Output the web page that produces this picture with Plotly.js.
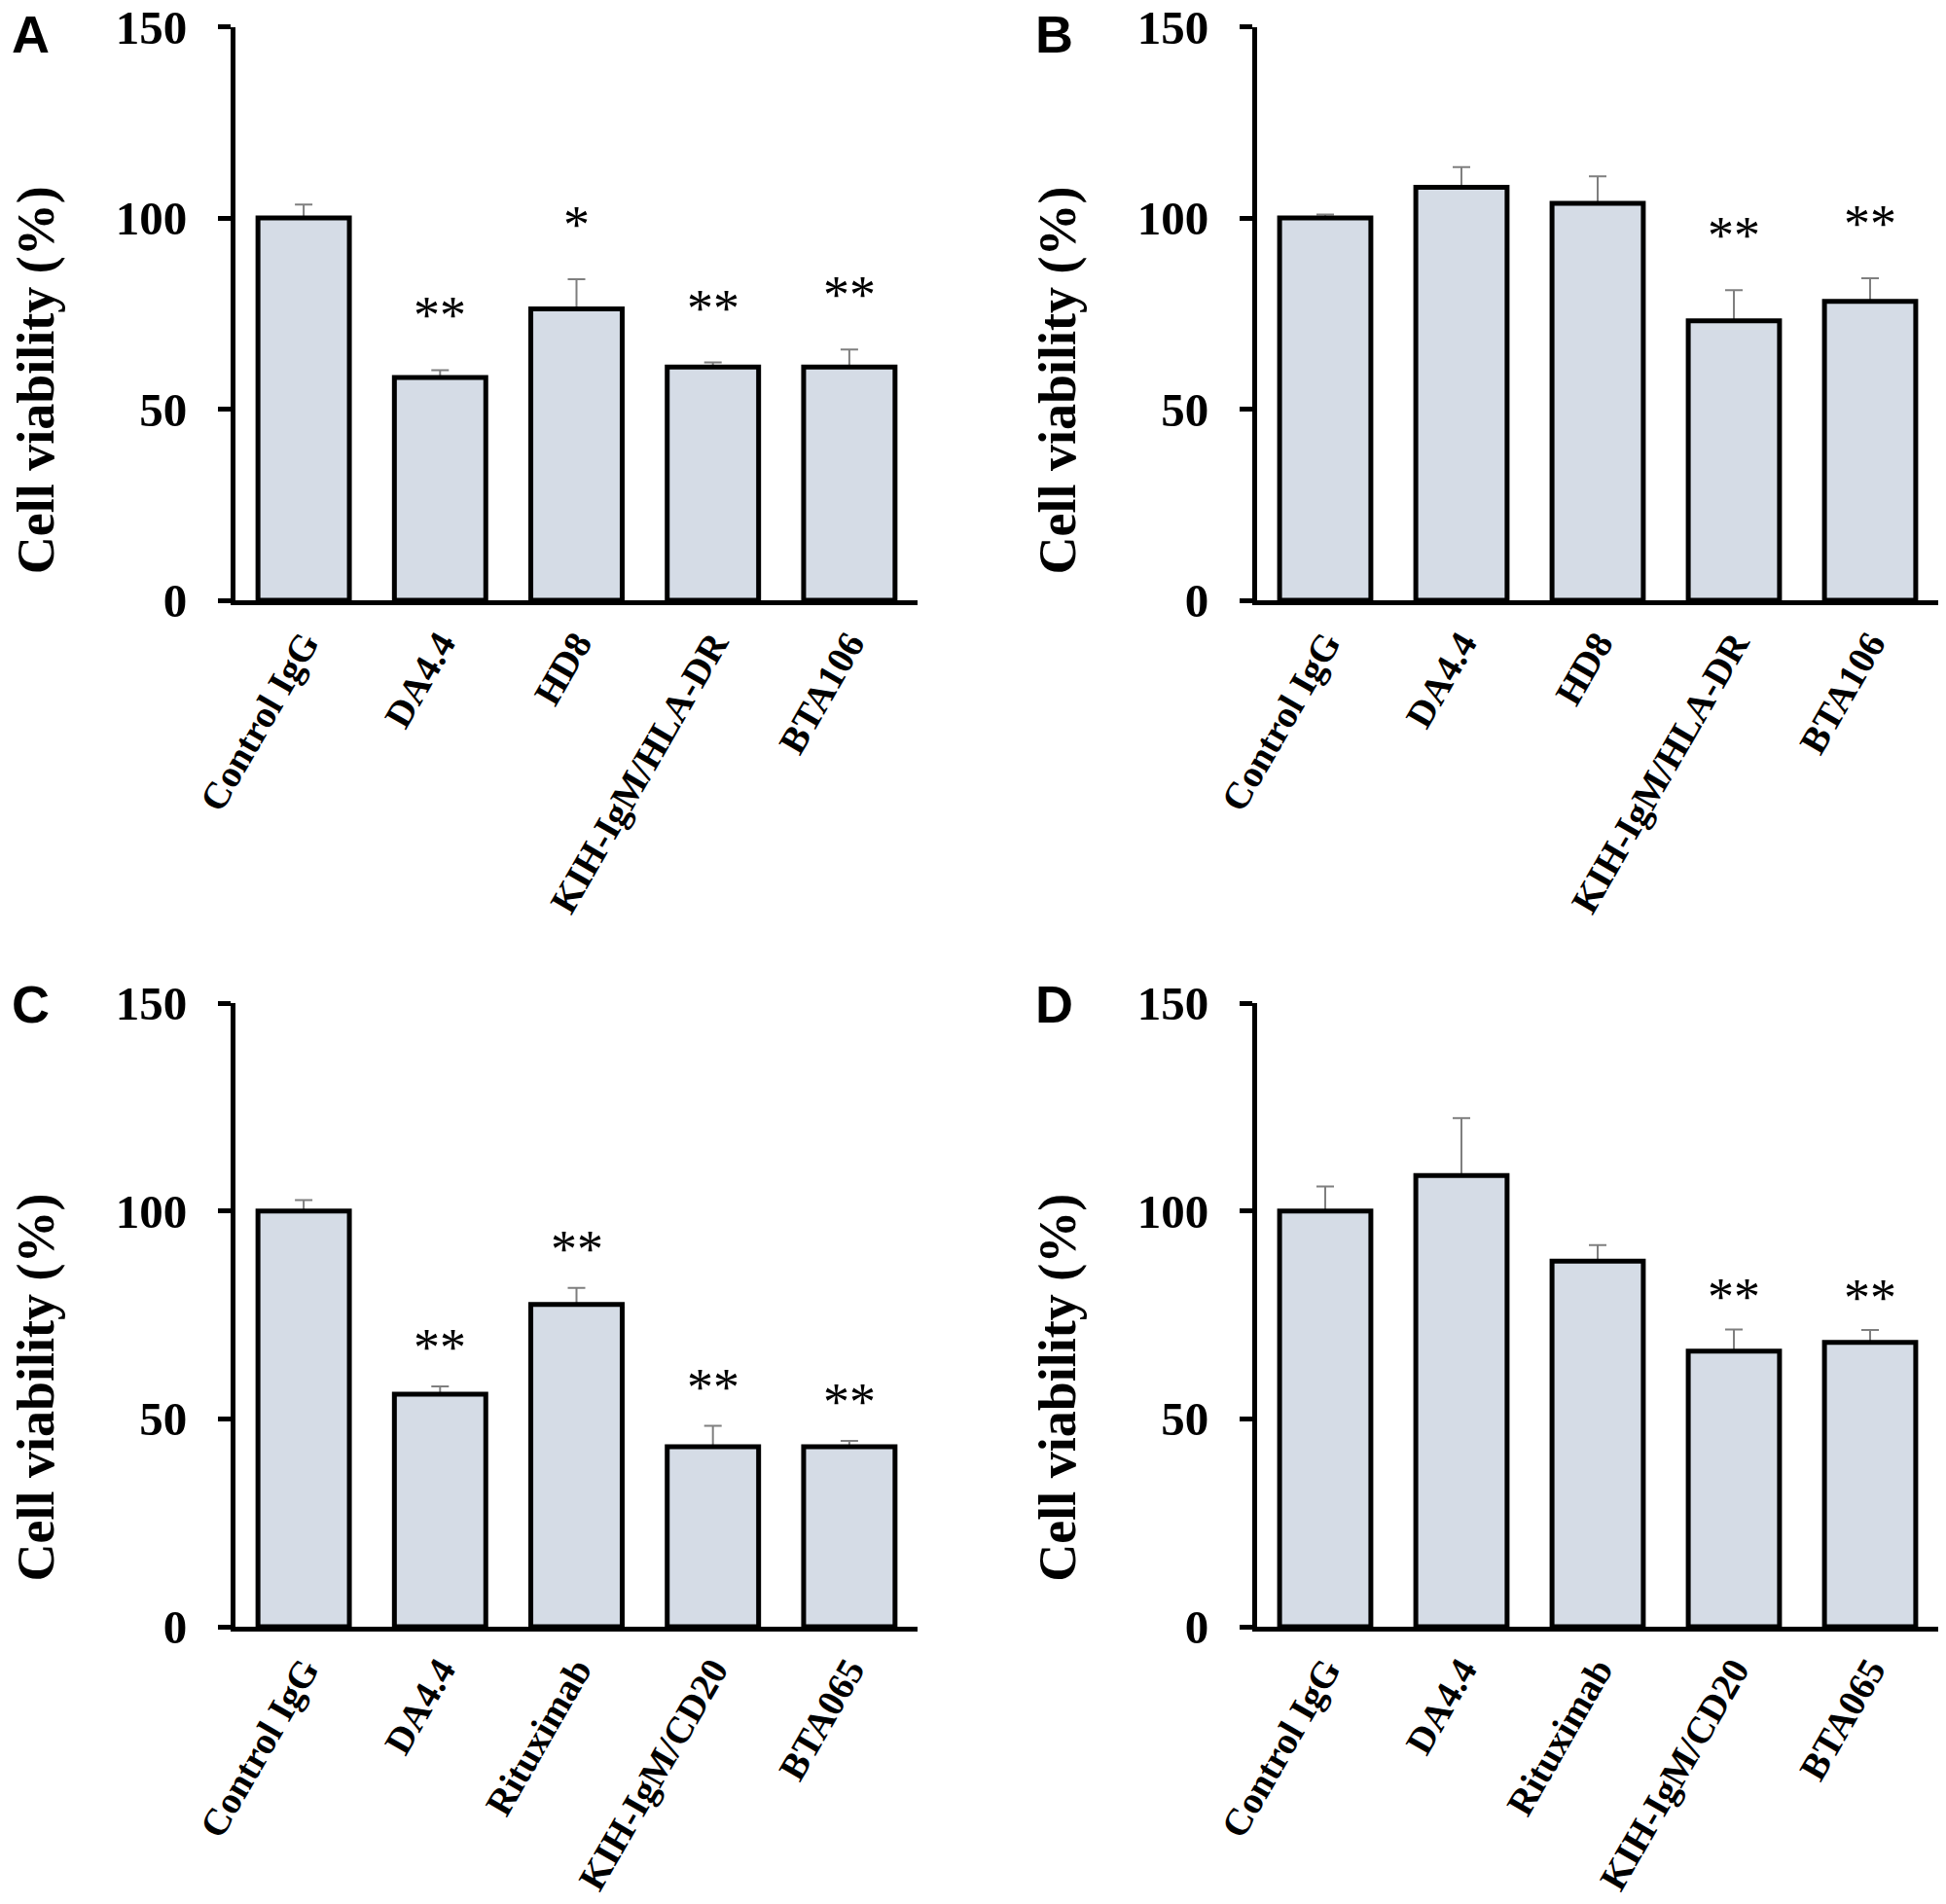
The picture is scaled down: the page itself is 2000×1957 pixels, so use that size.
<!DOCTYPE html>
<html>
<head>
<meta charset="utf-8">
<script src="https://cdn.plot.ly/plotly-3.0.1.min.js"></script>
<style>
  html, body { margin: 0; padding: 0; background: #fff; }
  #chart { width: 2000px; height: 1957px; }
</style>
</head>
<body>
<div id="chart"></div>
<script>
// categories
const catsAB = ['Control IgG', 'DA4.4', 'HD8', 'KIH-IgM/HLA-DR', 'BTA106'];
const catsCD = ['Control IgG', 'DA4.4', 'Rituximab', 'KIH-IgM/CD20', 'BTA065'];

// cell viability (%) and upper error
const viabA = [100, 58.3, 76.2, 61.0, 61.0];
const errA  = [3.5, 1.9, 7.8, 1.2, 4.6];
const sigA  = ['', '**', '*', '**', '**'];

const viabB = [100, 108.0, 103.8, 73.1, 78.2];
const errB  = [0.9, 5.3, 7.1, 8.0, 6.0];
const sigB  = ['', '', '', '**', '**'];

const viabC = [100, 55.9, 77.5, 43.3, 43.3];
const errC  = [2.6, 1.9, 4.0, 5.0, 1.4];
const sigC  = ['', '**', '**', '**', '**'];

const viabD = [100, 108.5, 87.9, 66.3, 68.4];
const errD  = [5.9, 13.8, 3.9, 5.2, 3.0];
const sigD  = ['', '', '', '**', '**'];

const yTicks = [0, 50, 100, 150];
const panelLetters = ['A', 'B', 'C', 'D'];

const W = 2000, H = 1957;
const SERIF = 'Liberation Serif';
const SANS = 'Liberation Sans';
const BAR_FILL = '#d5dce6';

// pixel boxes of each plot area
const colX = [[242, 943], [1292, 1992]];
const rowY = [[27.5, 617], [1031, 1672]];

const panels = [
  { cats: catsAB, vals: viabA, errs: errA, sig: sigA, col: 0, row: 0, gap: 56 },
  { cats: catsAB, vals: viabB, errs: errB, sig: sigB, col: 1, row: 0, gap: 56 },
  { cats: catsCD, vals: viabC, errs: errC, sig: sigC, col: 0, row: 1, gap: 40 },
  { cats: catsCD, vals: viabD, errs: errD, sig: sigD, col: 1, row: 1, gap: 33 },
];

const traces = [];
const layout = {
  width: W, height: H,
  margin: { l: 0, r: 0, t: 0, b: 0 },
  paper_bgcolor: '#ffffff',
  plot_bgcolor: 'rgba(0,0,0,0)',
  showlegend: false,
  barmode: 'overlay',
  bargap: 0.33,
  annotations: [],
};

panels.forEach((p, i) => {
  const n = i === 0 ? '' : String(i + 1);
  const xa = 'x' + n, ya = 'y' + n;

  // filled bars carrying the (upper) error bars
  traces.push({
    type: 'bar',
    x: p.cats, y: p.vals,
    xaxis: xa, yaxis: ya,
    marker: { color: BAR_FILL, line: { width: 0 } },
    error_y: {
      type: 'data', symmetric: false,
      array: p.errs, arrayminus: p.errs.map(() => 0),
      color: '#7f7f7f', thickness: 2, width: 9,
    },
    hoverinfo: 'skip',
  });
  // same bars again, outlined, so the outline sits on top of the lower cap
  traces.push({
    type: 'bar',
    x: p.cats, y: p.vals,
    xaxis: xa, yaxis: ya,
    marker: { color: BAR_FILL, line: { color: '#000', width: 5 } },
    hoverinfo: 'x+y',
  });

  const [x0, x1] = colX[p.col];
  const [yTop, yBot] = rowY[p.row];

  layout['xaxis' + n] = {
    domain: [x0 / W, x1 / W],
    anchor: ya,
    type: 'category',
    range: [-0.5, 4.5],
    showline: true, linecolor: '#000', linewidth: 5,
    ticks: '', showgrid: false, zeroline: false,
    tickangle: -60,
    ticklabelstandoff: 1,
    tickfont: { family: SERIF, size: 39, color: '#000', weight: 'bold' },
  };
  layout['yaxis' + n] = {
    domain: [1 - yBot / H, 1 - yTop / H],
    anchor: xa,
    range: [0, 150],
    tickvals: yTicks,
    showline: true, linecolor: '#000', linewidth: 5,
    ticks: 'outside', ticklen: 13, tickwidth: 5, tickcolor: '#000',
    ticklabelstandoff: 22,
    showgrid: false, zeroline: false,
    tickfont: { family: SERIF, size: 49, color: '#000', weight: 'bold' },
  };

  // axis title
  layout.annotations.push({
    xref: xa + ' domain', yref: ya + ' domain',
    x: -0.2924, y: 0.383, xanchor: 'center', yanchor: 'middle',
    textangle: -90, showarrow: false,
    text: '<b>Cell viability (%)</b>',
    font: { family: SERIF, size: 54, color: '#000' },
  });

  // panel letter
  layout.annotations.push({
    xref: 'paper', yref: 'paper',
    x: (p.col === 0 ? 10 : 1062) / W,
    y: 1 - (p.row === 0 ? 13 : 1010) / H,
    xanchor: 'left', yanchor: 'top', yshift: 10,
    showarrow: false, text: '<b>' + panelLetters[i] + '</b>',
    font: { family: SANS, size: 54, color: '#000' },
  });

  // significance marks above the error bars
  p.sig.forEach((s, k) => {
    if (!s) return;
    layout.annotations.push({
      xref: xa, yref: ya,
      x: p.cats[k], y: p.vals[k] + p.errs[k],
      xanchor: 'center', yanchor: 'middle', yshift: p.gap,
      showarrow: false, text: s,
      font: { family: SERIF, size: 54, color: '#000' },
    });
  });
});

Plotly.newPlot('chart', traces, layout, { displayModeBar: false, staticPlot: true });
</script>
</body>
</html>
